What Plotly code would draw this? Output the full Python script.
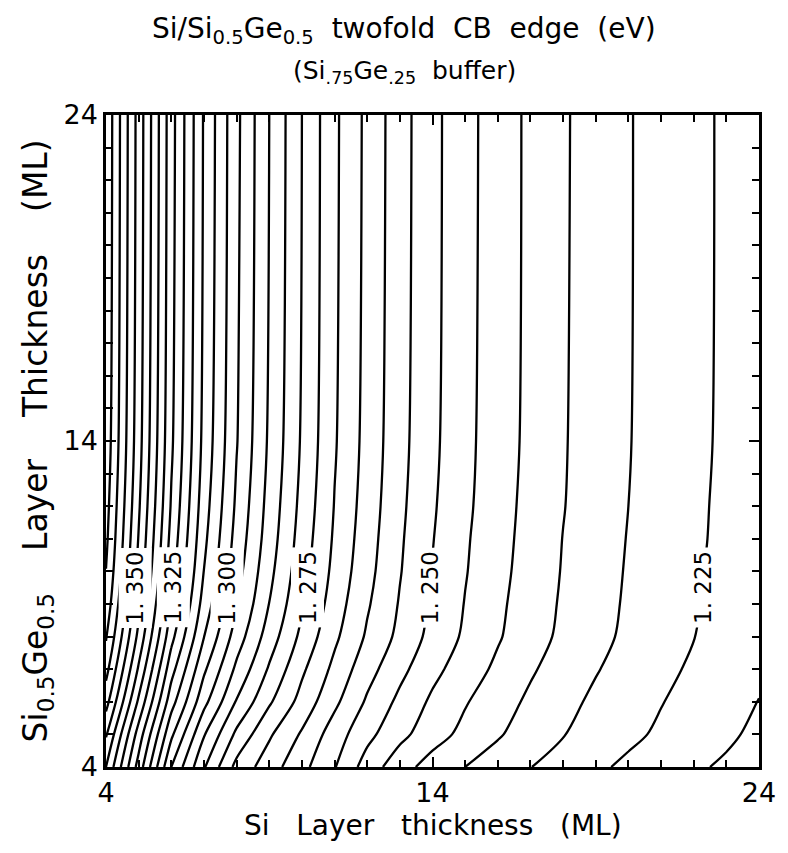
import numpy as np
import plotly.graph_objects as go

# ---- data: band-edge energy (eV) ----
x_ml = list(range(4, 25))                      # Si layer thickness (ML)
y_ml = [4, 5, 6, 7, 8, 9, 10, 11, 12, 14, 24]  # Si0.5Ge0.5 layer thickness (ML)

z_y04 = [1.3450, 1.3230, 1.3000, 1.2855, 1.2735, 1.2673, 1.2615, 1.2553, 1.2478, 1.2420, 1.2379, 1.2350, 1.2326, 1.2301, 1.2280, 1.2259, 1.2240, 1.2223, 1.2206, 1.2194, 1.2185]
z_y05 = [1.3505, 1.3278, 1.3060, 1.2904, 1.2789, 1.2707, 1.2644, 1.2575, 1.2514, 1.2464, 1.2421, 1.2386, 1.2355, 1.2327, 1.2302, 1.2281, 1.2261, 1.2242, 1.2224, 1.2207, 1.2191]
z_y06 = [1.3569, 1.3341, 1.3120, 1.2965, 1.2846, 1.2757, 1.2682, 1.2611, 1.2543, 1.2488, 1.2441, 1.2404, 1.2371, 1.2341, 1.2314, 1.2291, 1.2271, 1.2252, 1.2233, 1.2216, 1.2199]
z_y07 = [1.3617, 1.3393, 1.3169, 1.3009, 1.2889, 1.2794, 1.2709, 1.2637, 1.2569, 1.2514, 1.2464, 1.2425, 1.2390, 1.2356, 1.2328, 1.2303, 1.2282, 1.2262, 1.2243, 1.2225, 1.2208]
z_y08 = [1.3655, 1.3436, 1.3216, 1.3051, 1.2926, 1.2826, 1.2737, 1.2660, 1.2593, 1.2537, 1.2484, 1.2442, 1.2405, 1.2370, 1.2340, 1.2313, 1.2291, 1.2270, 1.2251, 1.2232, 1.2215]
z_y09 = [1.3681, 1.3465, 1.3248, 1.3080, 1.2953, 1.2849, 1.2757, 1.2675, 1.2606, 1.2546, 1.2492, 1.2448, 1.2410, 1.2375, 1.2344, 1.2317, 1.2294, 1.2273, 1.2254, 1.2235, 1.2218]
z_y10 = [1.3699, 1.3484, 1.3270, 1.3099, 1.2970, 1.2864, 1.2770, 1.2686, 1.2616, 1.2553, 1.2498, 1.2453, 1.2415, 1.2379, 1.2347, 1.2320, 1.2296, 1.2276, 1.2256, 1.2237, 1.2220]
z_y11 = [1.3711, 1.3497, 1.3284, 1.3112, 1.2982, 1.2875, 1.2778, 1.2693, 1.2622, 1.2557, 1.2502, 1.2456, 1.2418, 1.2382, 1.2349, 1.2322, 1.2298, 1.2277, 1.2258, 1.2239, 1.2221]
z_y12 = [1.3719, 1.3507, 1.3295, 1.3122, 1.2991, 1.2882, 1.2785, 1.2698, 1.2627, 1.2561, 1.2506, 1.2460, 1.2420, 1.2385, 1.2352, 1.2324, 1.2300, 1.2279, 1.2259, 1.2240, 1.2222]
z_y14 = [1.3731, 1.3520, 1.3309, 1.3135, 1.3003, 1.2892, 1.2794, 1.2705, 1.2633, 1.2566, 1.2511, 1.2463, 1.2424, 1.2388, 1.2354, 1.2326, 1.2302, 1.2281, 1.2261, 1.2242, 1.2224]
z_y24 = [1.3740, 1.3530, 1.3320, 1.3145, 1.3012, 1.2900, 1.2800, 1.2710, 1.2638, 1.2570, 1.2514, 1.2466, 1.2426, 1.2390, 1.2356, 1.2328, 1.2303, 1.2282, 1.2262, 1.2243, 1.2225]

labeled_levels = [1.350, 1.325, 1.300, 1.275, 1.250, 1.225]
tick_vals = [4, 14, 24]
tick_text = ["4", "14", "24"]

z = [z_y04, z_y05, z_y06, z_y07, z_y08, z_y09, z_y10, z_y11, z_y12, z_y14, z_y24]

FONT = "DejaVu Sans"
GAP = "&nbsp;&nbsp;&nbsp; "

fig = go.Figure()
fig.add_trace(go.Contour(
    x=x_ml, y=y_ml, z=z,
    contours=dict(start=1.220, end=1.400, size=0.005, coloring="none"),
    line=dict(color="black", width=2.3, smoothing=0.9),
    showscale=False, hoverinfo="skip",
))

# contour labels placed on the labelled lines (at y = 9.5 ML)
label_y = 9.5
row_mid = (np.array(z_y09) + np.array(z_y10)) / 2.0
xs = np.array(x_ml, dtype=float)
annotations = []
for lev in labeled_levels:
    lx = float(np.interp(lev, row_mid[::-1], xs[::-1]))
    annotations.append(dict(
        x=lx, y=label_y, xref="x", yref="y",
        text=f"{lev:.3f}".replace(".", ". "),
        textangle=-90, showarrow=False, bgcolor="white", borderpad=3,
        font=dict(family=FONT, size=23, color="black"),
    ))

annotations += [
    dict(x=0.457, y=1.130, xref="paper", yref="paper", showarrow=False,
         text="Si/Si<sub>0.5</sub>Ge<sub>0.5</sub>&nbsp; twofold&nbsp; CB&nbsp; edge&nbsp; (eV)",
         font=dict(family=FONT, size=28, color="black"), xanchor="center", yanchor="middle"),
    dict(x=0.457, y=1.066, xref="paper", yref="paper", showarrow=False,
         text="(Si<sub>.75</sub>Ge<sub>.25</sub>&nbsp; buffer)",
         font=dict(family=FONT, size=25, color="black"), xanchor="center", yanchor="middle"),
    dict(x=0.5, y=-0.089, xref="paper", yref="paper", showarrow=False,
         text="Si&nbsp;&nbsp; Layer&nbsp;&nbsp; thickness&nbsp;&nbsp; (ML)",
         font=dict(family=FONT, size=28, color="black"), xanchor="center", yanchor="middle"),
    dict(x=-0.105, y=0.5, xref="paper", yref="paper", showarrow=False, textangle=-90,
         text="Si<sub>0.5</sub>Ge<sub>0.5</sub>" + GAP + "Layer" + GAP + "Thickness" + GAP + "(ML)",
         font=dict(family=FONT, size=33, color="black"), xanchor="center", yanchor="middle"),
]

axis_common = dict(
    range=[4, 24], tickmode="array", tickvals=tick_vals, ticktext=tick_text,
    ticks="inside", ticklen=10, tickwidth=2, tickcolor="black",
    minor=dict(ticks="inside", dtick=1, tick0=4, ticklen=7, tickwidth=1.5, tickcolor="black"),
    showline=True, linewidth=2.5, linecolor="black", mirror="ticks",
    showgrid=False, zeroline=False,
    tickfont=dict(family=FONT, size=27, color="black"),
)

fig.update_layout(
    width=788, height=853,
    margin=dict(l=106, r=21, t=115, b=86),
    paper_bgcolor="white", plot_bgcolor="white",
    xaxis=axis_common, yaxis=axis_common,
    annotations=annotations,
    showlegend=False,
)

fig.write_html("out.html")
